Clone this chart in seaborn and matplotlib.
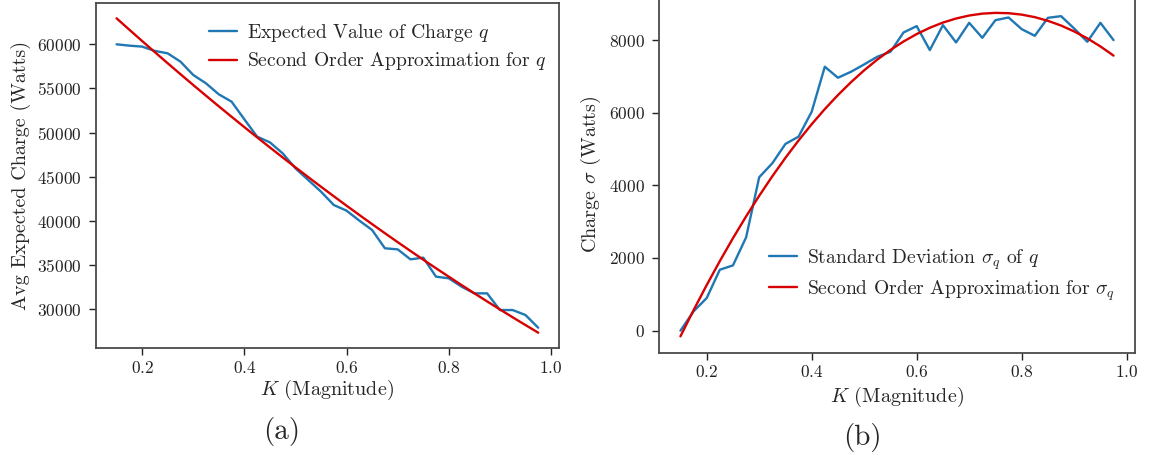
import numpy as np
import pandas as pd
import matplotlib
matplotlib.use("Agg")
import matplotlib.pyplot as plt
import seaborn as sns

# Magnitude grid K
k_values = [0.15, 0.175, 0.2, 0.225, 0.25, 0.275, 0.3, 0.325, 0.35, 0.375,
            0.4, 0.425, 0.45, 0.475, 0.5, 0.525, 0.55, 0.575, 0.6, 0.625,
            0.65, 0.675, 0.7, 0.725, 0.75, 0.775, 0.8, 0.825, 0.85, 0.875,
            0.9, 0.925, 0.95, 0.975]

# (a) expected charge q and its second order approximation
expected_q = [60000, 59850, 59740, 59250, 58980, 58040, 56530, 55580, 54340, 53510,
              51510, 49550, 48900, 47660, 45960, 44640, 43320, 41810, 41170, 40040,
              38980, 36910, 36790, 35660, 35850, 33700, 33510, 32570, 31810, 31810,
              29920, 29920, 29360, 27920]
approx_q = [62943, 61651, 60373, 59108, 57857, 56619, 55394, 54182, 52984, 51799,
            50628, 49470, 48325, 47193, 46075, 44970, 43878, 42800, 41735, 40683,
            39645, 38620, 37608, 36610, 35624, 34653, 33694, 32749, 31817, 30899,
            29994, 29102, 28223, 27358]

# (b) standard deviation of q and its second order approximation
sigma_q = [0, 531, 898, 1677, 1796, 2566, 4224, 4609, 5141, 5342,
           6029, 7267, 6964, 7129, 7331, 7542, 7679, 8211, 8385, 7725,
           8412, 7936, 8476, 8064, 8549, 8623, 8302, 8119, 8614, 8660,
           8320, 7954, 8476, 8000]
approx_sigma = [-157, 564, 1255, 1915, 2545, 3144, 3713, 4251, 4759, 5237,
                5684, 6101, 6487, 6843, 7169, 7464, 7728, 7962, 8166, 8340,
                8483, 8595, 8677, 8729, 8750, 8741, 8702, 8632, 8531, 8401,
                8239, 8048, 7826, 7573]

x_ticks = [0.2, 0.4, 0.6, 0.8, 1.0]
left_yticks = [30000, 35000, 40000, 45000, 50000, 55000, 60000]
right_yticks = [0, 2000, 4000, 6000, 8000]

sns.set_style("ticks")
plt.rcParams["font.family"] = "serif"
plt.rcParams["font.serif"] = ["cmr10"]
plt.rcParams["mathtext.fontset"] = "cm"
plt.rcParams["axes.formatter.use_mathtext"] = True
plt.rcParams["axes.edgecolor"] = "#4a4a4a"
plt.rcParams["axes.linewidth"] = 1.3
plt.rcParams["xtick.color"] = "#222222"
plt.rcParams["ytick.color"] = "#222222"

BLUE = "#1f77b4"
RED = "#d80000"
TICK_FS = 12.5
LABEL_FS = 14.5
LEGEND_FS = 14.1

W, H = 1156, 458
fig = plt.figure(figsize=(W / 100, H / 100), dpi=100)


def px_axes(left, top, right, bottom):
    return fig.add_axes([left / W, 1 - bottom / H, (right - left) / W, (bottom - top) / H])


def add_legend(ax, x, y):
    ax.legend(loc="upper left", bbox_to_anchor=(x / W, 1 - y / H),
              bbox_transform=fig.transFigure, frameon=False, fontsize=LEGEND_FS,
              handlelength=1.45, handletextpad=0.5, labelspacing=0.33,
              borderpad=0, borderaxespad=0)


df_a = pd.DataFrame({"K": k_values, "q": expected_q, "approx": approx_q})
df_b = pd.DataFrame({"K": k_values, "sigma": sigma_q, "approx": approx_sigma})

ax1 = px_axes(95.5, 2.6, 559.3, 348.4)
sns.lineplot(data=df_a, x="K", y="q", ax=ax1, color=BLUE, lw=1.7,
             label=r"Expected Value of Charge $q$")
sns.lineplot(data=df_a, x="K", y="approx", ax=ax1, color=RED, lw=1.7,
             label=r"Second Order Approximation for $q$")
ax1.set_xticks(x_ticks)
ax1.set_yticks(left_yticks)
ax1.set_xlabel(r"$K$ (Magnitude)", fontsize=LABEL_FS, labelpad=1)
ax1.set_ylabel("Avg Expected Charge (Watts)", fontsize=LABEL_FS)
add_legend(ax1, 209, 22)

ax2 = px_axes(658.8, -3.3, 1135.2, 352.5)
sns.lineplot(data=df_b, x="K", y="sigma", ax=ax2, color=BLUE, lw=1.7,
             label=r"Standard Deviation $\sigma_q$ of $q$")
sns.lineplot(data=df_b, x="K", y="approx", ax=ax2, color=RED, lw=1.7,
             label=r"Second Order Approximation for $\sigma_q$")
ax2.set_xticks(x_ticks)
ax2.set_yticks(right_yticks)
ax2.set_xlabel(r"$K$ (Magnitude)", fontsize=LABEL_FS, labelpad=3)
ax2.set_ylabel(r"Charge $\sigma$ (Watts)", fontsize=LABEL_FS)
add_legend(ax2, 769, 247)

for ax in (ax1, ax2):
    ax.tick_params(labelsize=TICK_FS, length=5, width=1)
    ax.tick_params(axis="y", pad=5)
    for s in ax.spines.values():
        s.set_visible(True)

fig.text(282 / W, 1 - 432 / H, "(a)", ha="center", va="center", fontsize=21)
fig.text(862 / W, 1 - 437 / H, "(b)", ha="center", va="center", fontsize=21)

fig.savefig("out.png", dpi=100)
